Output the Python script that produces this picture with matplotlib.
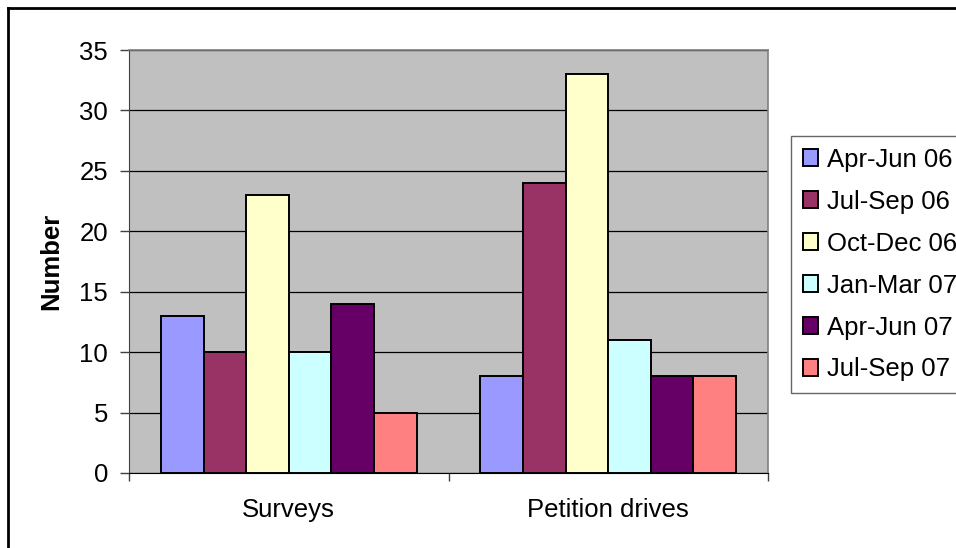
import matplotlib
matplotlib.use("Agg")
import matplotlib.pyplot as plt
from matplotlib.lines import Line2D
from matplotlib.patches import Patch
import numpy as np

plt.rcParams['font.family'] = ['Liberation Sans', 'DejaVu Sans']

categories = ["Surveys", "Petition drives"]
series_names = ["Apr-Jun 06", "Jul-Sep 06", "Oct-Dec 06", "Jan-Mar 07", "Apr-Jun 07", "Jul-Sep 07"]
series_values = [
    [13, 8],
    [10, 24],
    [23, 33],
    [10, 11],
    [14, 8],
    [5, 8],
]
series_colors = ["#9999FF", "#993366", "#FFFFCC", "#CCFFFF", "#660066", "#FF8080"]
y_ticks = [0, 5, 10, 15, 20, 25, 30, 35]

FS = 18.5
W, H = 956, 548
fig = plt.figure(figsize=(W / 100, H / 100), dpi=100)
fig.patch.set_facecolor("white")

left, right, top, bottom = 129, 768, 50, 473
ax = fig.add_axes([left / W, 1 - bottom / H, (right - left) / W, (bottom - top) / H])
ax.set_facecolor("#C0C0C0")

n = len(series_names)
group_w = 0.8
bw = group_w / n
centers = np.arange(len(categories)) + 0.5
for i, (name, vals, col) in enumerate(zip(series_names, series_values, series_colors)):
    ax.bar(centers + (i - (n - 1) / 2) * bw, vals, width=bw, color=col,
           edgecolor="black", linewidth=1.4, label=name, zorder=3)

ax.set_xlim(0, len(categories))
ax.set_ylim(0, 35)
ax.set_yticks(y_ticks)
ax.yaxis.grid(True, color="black", linewidth=0.9, zorder=1)
ax.set_axisbelow(True)

ax.set_xticks(np.arange(len(categories) + 1))
ax.set_xticklabels([])
ax.set_xticks(centers, minor=True)
ax.set_xticklabels(categories, minor=True)
ax.tick_params(axis="x", which="major", direction="out", length=6, width=1, color="#404040")
ax.tick_params(axis="x", which="minor", length=0, pad=18, labelsize=FS)
ax.tick_params(axis="y", direction="out", length=6.5, width=1, color="#404040", pad=8.5, labelsize=FS)

for s in ["top", "right"]:
    ax.spines[s].set_color("#808080")
    ax.spines[s].set_linewidth(1.2)
ax.spines["left"].set_color("#404040")
ax.spines["bottom"].set_color("black")

ax.set_ylabel("Number", fontsize=FS, fontweight="bold")
ax.yaxis.set_label_coords((63 - left) / (right - left), 0.5)

handles = [Patch(facecolor=c, edgecolor="black", linewidth=1.4) for c in series_colors]
leg = fig.legend(handles, series_names, loc="upper left",
                 bbox_to_anchor=(791 / W, 1 - 136 / H), bbox_transform=fig.transFigure,
                 borderaxespad=0, frameon=True, fancybox=False, fontsize=FS,
                 handlelength=0.6, handleheight=0.6, handletextpad=0.35,
                 labelspacing=0.7, borderpad=0.45)
leg.get_frame().set_edgecolor("#404040")
leg.get_frame().set_linewidth(1.0)

# outer chart border (top and left edges)
fig.add_artist(Line2D([8 / W, 8 / W], [0, 1 - 8 / H], color="black", linewidth=2, transform=fig.transFigure))
fig.add_artist(Line2D([8 / W, 1], [1 - 8 / H, 1 - 8 / H], color="black", linewidth=2, transform=fig.transFigure))

fig.savefig("out.png", dpi=100)
